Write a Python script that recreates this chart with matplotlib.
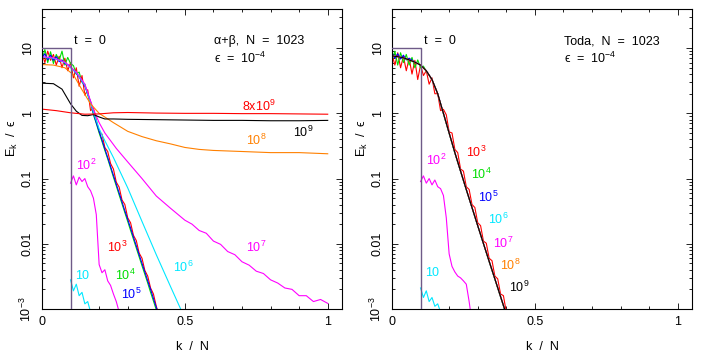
import matplotlib
matplotlib.use("Agg")
import matplotlib.pyplot as plt
from matplotlib.ticker import LogLocator, FixedLocator, MultipleLocator, NullFormatter

# ---- Fonts ----
plt.rcParams["font.family"] = ["Liberation Sans", "DejaVu Sans"]
plt.rcParams["mathtext.fontset"] = "custom"
plt.rcParams["mathtext.rm"] = "Liberation Sans"
plt.rcParams["mathtext.it"] = "Liberation Sans:italic"
plt.rcParams["mathtext.bf"] = "Liberation Sans:bold"
plt.rcParams["mathtext.sf"] = "Liberation Sans"

# ---- Data ----
# common k/N grid for the dense curves
K01 = [0.00, 0.01, 0.02, 0.03, 0.04, 0.05, 0.06, 0.07, 0.08, 0.09,
       0.10, 0.11, 0.12, 0.13, 0.14, 0.15, 0.16, 0.17, 0.18, 0.19,
       0.20, 0.21, 0.22, 0.23, 0.24, 0.25, 0.26, 0.27, 0.28, 0.29,
       0.30, 0.31, 0.32, 0.33, 0.34, 0.35, 0.36, 0.37, 0.38, 0.39,
       0.40, 0.41]

# t = 0 initial spectrum (same in both panels)
t0_k = [0.0, 0.1, 0.1]
t0_E = [10.0, 10.0, 1e-4]

# ---- alpha+beta panel ----
ab_e1_k = [0.10, 0.11, 0.12, 0.13, 0.14, 0.15, 0.16, 0.17]
ab_e1 = [0.0028, 0.0019, 0.0024, 0.0016, 0.0018, 0.0012, 0.0013, 0.0009]

ab_e2_k = [0.10, 0.11, 0.12, 0.13, 0.14, 0.15, 0.16, 0.17,
           0.18, 0.19, 0.20, 0.21, 0.22, 0.23, 0.24, 0.25, 0.26, 0.27]
ab_e2 = [0.085, 0.11, 0.08, 0.105, 0.09, 0.10, 0.075, 0.065,
         0.05, 0.028, 0.0048, 0.0036, 0.0040, 0.0027, 0.0023, 0.0017, 0.0013, 0.0009]

ab_e3 = [8.5, 6.0, 9.0, 6.5, 8.0, 5.5, 7.5, 5.0, 7.0, 4.5,
         6.0, 3.5, 5.0, 2.6, 3.8, 1.9, 2.3, 1.1, 1.2, 0.80,
         0.52, 0.48, 0.30, 0.26, 0.17, 0.14, 0.088, 0.074, 0.047, 0.040,
         0.025, 0.021, 0.0135, 0.0112, 0.0072, 0.0060, 0.0039, 0.0032, 0.0021, 0.0017,
         0.0011, 0.0008]

ab_e4 = [6.5, 9.5, 6.0, 8.8, 5.8, 8.0, 6.5, 9.0, 5.5, 7.2,
         5.8, 5.4, 4.0, 4.3, 3.0, 2.8, 1.9, 1.5, 0.95, 0.70,
         0.50, 0.37, 0.27, 0.20, 0.145, 0.105, 0.077, 0.056, 0.041, 0.030,
         0.022, 0.016, 0.0118, 0.0086, 0.0063, 0.0046, 0.0034, 0.0025, 0.0018, 0.00133,
         0.00097, 0.00071]

ab_e5 = [7.0, 8.2, 6.6, 7.8, 6.5, 7.4, 6.2, 6.6, 5.8, 5.6,
         5.1, 4.6, 4.1, 3.6, 3.1, 2.6, 2.0, 1.5, 1.0, 0.72,
         0.53, 0.39, 0.285, 0.21, 0.153, 0.112, 0.082, 0.060, 0.044, 0.032,
         0.0237, 0.0174, 0.0127, 0.0093, 0.0068, 0.0050, 0.0037, 0.0027, 0.0020, 0.00145,
         0.00106, 0.00078]

ab_e6_k = [0.0, 0.04, 0.08, 0.12, 0.15, 0.18, 0.20, 0.22, 0.25, 0.30, 0.35, 0.40, 0.45, 0.49]
ab_e6 = [7.3, 7.0, 6.0, 4.2, 2.7, 1.05, 0.58, 0.38, 0.21, 0.072, 0.022, 0.0068, 0.0022, 0.0009]

ab_e7_k = [0.0, 0.04, 0.08, 0.12, 0.15, 0.18, 0.20, 0.22, 0.26, 0.30, 0.35, 0.40, 0.45,
           0.500, 0.525, 0.550, 0.575, 0.600, 0.625, 0.650, 0.675, 0.700, 0.725, 0.750,
           0.775, 0.800, 0.825, 0.850, 0.875, 0.900, 0.925, 0.950, 0.975, 1.000]
ab_e7 = [7.4, 7.1, 6.1, 4.3, 2.8, 1.15, 0.72, 0.50, 0.29, 0.18, 0.10, 0.054, 0.035,
         0.023, 0.020, 0.016, 0.0145, 0.011, 0.0098, 0.0076, 0.0068, 0.0053, 0.0047, 0.0038,
         0.0035, 0.0028, 0.0025, 0.0021, 0.0020, 0.0016, 0.0016, 0.0013, 0.0014, 0.00122]

ab_e8_k = [0.0, 0.04, 0.08, 0.11, 0.14, 0.17, 0.20, 0.25, 0.30, 0.35, 0.40,
           0.45, 0.50, 0.55, 0.60, 0.70, 0.80, 0.90, 1.00]
ab_e8 = [5.6, 5.5, 5.0, 3.9, 2.3, 1.4, 1.0, 0.72, 0.53, 0.44, 0.38,
         0.34, 0.30, 0.28, 0.27, 0.26, 0.25, 0.25, 0.24]

ab_e9_k = [0.0, 0.04, 0.07, 0.10, 0.12, 0.14, 0.16, 0.18, 0.20, 0.22, 0.25,
           0.30, 0.40, 0.50, 0.60, 0.70, 0.80, 0.90, 1.00]
ab_e9 = [2.9, 2.85, 2.35, 1.4, 1.08, 0.93, 0.92, 0.96, 0.88, 0.82, 0.82,
         0.81, 0.80, 0.79, 0.78, 0.78, 0.77, 0.77, 0.78]

ab_8e9_k = [0.0, 0.05, 0.10, 0.15, 0.20, 0.25, 0.30, 0.40, 0.50, 0.60, 0.70, 0.80, 0.90, 1.00]
ab_8e9 = [1.16, 1.10, 1.02, 0.97, 0.98, 1.02, 1.03, 1.01, 1.00, 1.00, 0.99, 0.99, 0.98, 0.97]

# ---- Toda panel ----
toda_k = [0.00, 0.02, 0.04, 0.06, 0.08, 0.10, 0.12, 0.14, 0.16, 0.18, 0.20,
          0.22, 0.24, 0.26, 0.28, 0.30, 0.32, 0.34, 0.36, 0.38, 0.40]
toda_smooth = [7.6, 7.4, 7.1, 6.6, 6.1, 5.5, 4.5, 3.3, 2.0, 1.0, 0.50,
               0.25, 0.13, 0.068, 0.036, 0.019, 0.0101, 0.0054, 0.0029, 0.00155, 0.00083]

toda_e1_k = [0.10, 0.11, 0.12, 0.13, 0.14, 0.15, 0.16, 0.17]
toda_e1 = [0.0021, 0.0015, 0.0019, 0.0013, 0.0015, 0.0011, 0.0012, 0.0009]

toda_e2_k = [0.10, 0.11, 0.12, 0.13, 0.14, 0.15, 0.16, 0.17,
             0.18, 0.19, 0.20, 0.21, 0.22, 0.23, 0.24, 0.25, 0.26, 0.27, 0.275]
toda_e2 = [0.09, 0.11, 0.085, 0.10, 0.08, 0.095, 0.075, 0.07,
           0.055, 0.025, 0.007, 0.0045, 0.0037, 0.0032, 0.0030, 0.0027, 0.0024, 0.0013, 0.0009]

toda_e3 = [8.0, 5.5, 8.5, 5.0, 7.5, 4.5, 7.0, 4.0, 6.5, 3.3,
           5.5, 3.8, 4.5, 2.8, 3.5, 2.0, 2.0, 1.1, 1.15, 0.95,
           0.52, 0.50, 0.28, 0.25, 0.14, 0.13, 0.075, 0.068, 0.040, 0.036,
           0.021, 0.019, 0.011, 0.0102, 0.0060, 0.0055, 0.0032, 0.0029, 0.0017, 0.0016,
           0.0009, 0.0007]

toda_e4_k = [0.00, 0.01, 0.02, 0.03, 0.04, 0.05, 0.06, 0.07, 0.08, 0.09, 0.10, 0.11, 0.12,
             0.14, 0.16, 0.18, 0.20, 0.22, 0.24, 0.26, 0.28, 0.30, 0.32, 0.34, 0.36, 0.38, 0.40]
toda_e4 = [6.5, 9.0, 5.5, 8.5, 6.0, 8.0, 5.5, 7.2, 5.0, 6.6, 5.0, 5.3, 4.4,
           3.3, 2.0, 0.98, 0.49, 0.245, 0.128, 0.067, 0.0355, 0.0188, 0.0100, 0.0053, 0.00285,
           0.00152, 0.00081]

toda_e5_k = [0.00, 0.01, 0.02, 0.03, 0.04, 0.05, 0.06, 0.08, 0.10, 0.12, 0.14, 0.16,
             0.18, 0.20, 0.22, 0.24, 0.26, 0.28, 0.30, 0.32, 0.34, 0.36, 0.38, 0.40]
toda_e5 = [8.5, 7.0, 8.2, 6.8, 7.8, 6.6, 7.0, 6.1, 5.5, 4.5, 3.3, 2.0,
           1.0, 0.50, 0.25, 0.13, 0.068, 0.036, 0.019, 0.0101, 0.0054, 0.0029, 0.00155, 0.00083]

# ---- Colours ----
C_T0 = "#6e5a88"
C1 = "#00e8ff"   # 10, 10^6
C2 = "#ff00ff"   # 10^2, 10^7
C3 = "#ff0000"   # 10^3, 8x10^9
C4 = "#00dd00"   # 10^4
C5 = "#0000ff"   # 10^5
C8 = "#ff8000"   # 10^8
C9 = "#000000"   # 10^9

LW = 0.8
FS = 9

W, H = 707, 361
fig = plt.figure(figsize=(W / 100, H / 100), dpi=100)
ax1 = fig.add_axes([42 / W, 52 / H, 300 / W, 300 / H])
ax2 = fig.add_axes([392 / W, 52 / H, 300 / W, 300 / H])


def style_axes(ax):
    ax.set_yscale("log")
    ax.set_xlim(0, 1.05)
    ax.set_ylim(1e-3, 10 ** 1.6)
    ax.xaxis.set_major_locator(FixedLocator([0, 0.5, 1]))
    ax.xaxis.set_minor_locator(MultipleLocator(0.1))
    ax.set_xticklabels(["0", "0.5", "1"])
    ax.yaxis.set_major_locator(FixedLocator([1e-3, 1e-2, 1e-1, 1, 10]))
    ax.yaxis.set_minor_locator(LogLocator(base=10, subs=range(2, 10), numticks=20))
    ax.yaxis.set_minor_formatter(NullFormatter())
    ax.set_yticklabels([r"$10^{-3}$", "0.01", "0.1", "1", "10"], rotation=90, va="center")
    ax.tick_params(which="both", direction="in", top=True, right=True, width=0.6,
                   labelsize=FS, colors="black")
    ax.tick_params(which="major", length=4.3)
    ax.tick_params(which="minor", length=2.4)
    ax.tick_params(axis="y", pad=6)
    ax.tick_params(axis="x", pad=5)
    for s in ax.spines.values():
        s.set_linewidth(0.8)
    ax.set_xlabel("k  /  N", fontsize=FS, va="center")
    ax.xaxis.set_label_coords(0.5, -0.127)
    ax.set_ylabel(r"E$_\mathrm{k}$  /  ϵ", fontsize=FS, va="center")
    ax.yaxis.set_label_coords(-0.097, 0.57)


# ---- Left panel: alpha+beta ----
ax1.plot(ab_e1_k, ab_e1, color=C1, lw=LW)
ax1.plot(ab_e2_k, ab_e2, color=C2, lw=LW)
ax1.plot(K01, ab_e3, color=C3, lw=LW)
ax1.plot(K01, ab_e4, color=C4, lw=LW)
ax1.plot(K01, ab_e5, color=C5, lw=LW)
ax1.plot(ab_e6_k, ab_e6, color=C1, lw=LW)
ax1.plot(ab_e7_k, ab_e7, color=C2, lw=LW)
ax1.plot(ab_e8_k, ab_e8, color=C8, lw=LW)
ax1.plot(ab_e9_k, ab_e9, color=C9, lw=LW)
ax1.plot(ab_8e9_k, ab_8e9, color=C3, lw=LW)
ax1.plot(t0_k, t0_E, color=C_T0, lw=1.0, zorder=5)
style_axes(ax1)

ax1.text(0.112, 11.5, "t  =  0", fontsize=FS)
ax1.text(0.601, 11.5, "α+β,  N  =  1023", fontsize=FS)
ax1.text(0.601, 5.9, "ϵ  =  $10^{-4}$", fontsize=FS)
ax1.text(0.70, 1.08, "8x$10^9$", color=C3, fontsize=FS)
ax1.text(0.877, 0.44, "$10^9$", color=C9, fontsize=FS)
ax1.text(0.713, 0.33, "$10^8$", color=C8, fontsize=FS)
ax1.text(0.119, 0.134, "$10^2$", color=C2, fontsize=FS)
ax1.text(0.713, 0.0074, "$10^7$", color=C2, fontsize=FS)
ax1.text(0.457, 0.0037, "$10^6$", color=C1, fontsize=FS)
ax1.text(0.228, 0.0074, "$10^3$", color=C3, fontsize=FS)
ax1.text(0.255, 0.00275, "$10^4$", color=C4, fontsize=FS)
ax1.text(0.275, 0.0014, "$10^5$", color=C5, fontsize=FS)
ax1.text(0.115, 0.0029, "10", color=C1, fontsize=FS)

# ---- Right panel: Toda ----
ax2.plot(toda_e1_k, toda_e1, color=C1, lw=LW)
ax2.plot(toda_e2_k, toda_e2, color=C2, lw=LW)
ax2.plot(K01, toda_e3, color=C3, lw=LW)
ax2.plot(toda_e4_k, toda_e4, color=C4, lw=LW)
ax2.plot(toda_e5_k, toda_e5, color=C5, lw=LW)
ax2.plot(toda_k, toda_smooth, color=C1, lw=LW)
ax2.plot(toda_k, toda_smooth, color=C2, lw=LW)
ax2.plot(toda_k, toda_smooth, color=C8, lw=LW)
ax2.plot(toda_k, toda_smooth, color=C9, lw=LW)
ax2.plot(t0_k, t0_E, color=C_T0, lw=1.0, zorder=5)
style_axes(ax2)

ax2.text(0.112, 11.5, "t  =  0", fontsize=FS)
ax2.text(0.601, 11.5, "Toda,  N  =  1023", fontsize=FS)
ax2.text(0.601, 5.9, "ϵ  =  $10^{-4}$", fontsize=FS)
ax2.text(0.259, 0.215, "$10^3$", color=C3, fontsize=FS)
ax2.text(0.276, 0.10, "$10^4$", color=C4, fontsize=FS)
ax2.text(0.302, 0.044, "$10^5$", color=C5, fontsize=FS)
ax2.text(0.337, 0.020, "$10^6$", color=C1, fontsize=FS)
ax2.text(0.354, 0.0087, "$10^7$", color=C2, fontsize=FS)
ax2.text(0.378, 0.0039, "$10^8$", color=C8, fontsize=FS)
ax2.text(0.409, 0.0018, "$10^9$", color=C9, fontsize=FS)
ax2.text(0.118, 0.16, "$10^2$", color=C2, fontsize=FS)
ax2.text(0.115, 0.0032, "10", color=C1, fontsize=FS)

fig.savefig("out.png", dpi=100)
print("Saved out.png")
